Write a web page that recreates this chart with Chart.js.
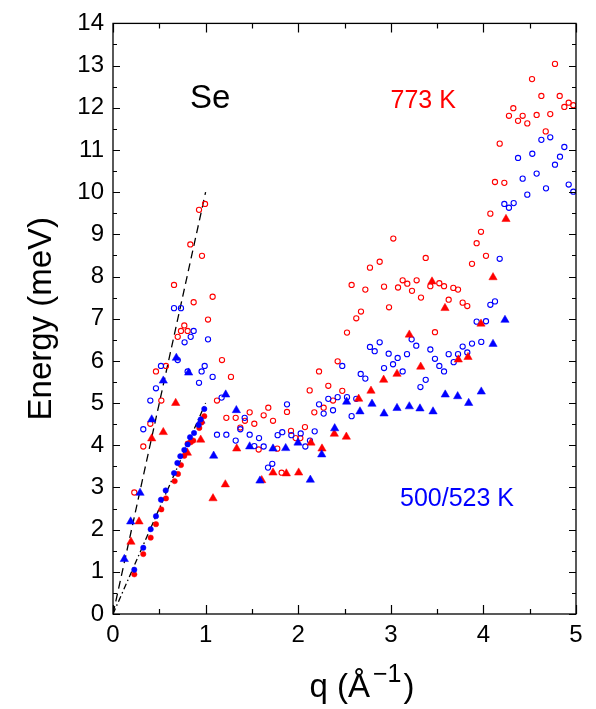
<!DOCTYPE html>
<html>
<head>
<meta charset="utf-8">
<script src="https://cdn.jsdelivr.net/npm/chart.js@4/dist/chart.umd.min.js"></script>
<style>
  html, body { margin: 0; padding: 0; background: #fff; }
  #wrap { width: 596px; height: 709px; }
</style>
</head>
<body>
<div id="wrap"><canvas id="c" width="596" height="709"></canvas></div>
<script>
// Se dispersion: energy (meV) versus q (1/Å)

// 773 K, open circles
const hotOpen = [
  [0.230,2.88],[0.327,3.97],[0.403,4.51],[0.522,5.06],[0.464,5.75],[0.572,5.88],
  [0.659,7.80],[0.699,6.57],[0.734,6.71],[0.770,6.84],[0.806,6.71],[0.835,8.76],
  [0.871,7.39],[0.929,9.58],[0.961,8.49],[0.994,9.72],[1.026,6.98],[1.076,7.52],
  [1.177,6.02],[1.123,5.06],[1.274,5.62],[1.224,4.65],[1.325,4.65],[1.375,4.42],
  [1.425,4.58],[1.476,4.78],[1.526,4.51],[1.573,3.90],[1.627,4.71],[1.677,4.89],
  [1.728,4.58],[1.774,3.92],[1.821,3.35],[1.879,4.79],[1.922,4.34],[1.973,4.17],
  [2.023,4.17],[2.073,4.43],[2.124,5.30],[2.174,4.78],[2.225,5.75],[2.275,4.89],
  [2.325,5.41],[2.376,5.06],[2.426,5.99],[2.476,5.29],[2.527,6.67],[2.577,7.80],
  [2.627,7.01],[2.678,7.17],[2.725,7.69],[2.775,8.21],[2.880,8.35],[2.927,7.76],
  [2.981,7.27],[3.027,8.90],[3.078,7.74],[3.128,7.91],[3.178,7.83],[3.229,7.66],
  [3.279,7.91],[3.326,7.50],[3.377,8.44],[3.427,7.77],[3.477,6.68],[3.524,7.84],
  [3.575,7.77],[3.625,7.45],[3.675,7.73],[3.726,7.69],[3.776,7.38],[3.826,7.30],
  [3.877,8.30],[3.927,8.79],[3.974,9.06],[4.028,8.49],[4.075,9.49],[4.125,10.24],
  [4.176,11.15],[4.226,10.22],[4.276,11.81],[4.323,11.99],[4.374,11.69],[4.424,11.81],
  [4.474,11.63],[4.525,12.68],[4.575,11.83],[4.626,12.28],[4.673,11.44],[4.722,11.85],
  [4.773,13.04],[4.824,12.28],[4.874,12.02],[4.921,12.12],[4.971,12.06]
];

// 500/523 K, open circles
const coldOpen = [
  [0.327,4.38],[0.403,5.06],[0.464,5.35],[0.518,5.88],[0.659,7.25],[0.699,6.02],
  [0.734,7.25],[0.773,6.44],[0.806,5.75],[0.839,6.57],[0.871,6.71],[0.929,5.48],
  [0.957,5.75],[0.990,5.88],[1.026,6.51],[1.076,5.62],[1.123,4.25],[1.173,5.13],
  [1.224,4.25],[1.325,4.11],[1.375,4.38],[1.422,4.65],[1.476,4.25],[1.526,3.98],
  [1.577,4.17],[1.627,3.97],[1.674,3.47],[1.720,3.56],[1.778,4.24],[1.828,4.31],
  [1.879,4.97],[1.926,4.24],[2.027,4.28],[2.077,3.97],[2.127,4.11],[2.178,4.33],
  [2.225,4.97],[2.275,4.75],[2.325,5.10],[2.376,4.83],[2.426,5.14],[2.476,5.88],
  [2.527,5.14],[2.577,4.69],[2.627,5.10],[2.675,5.69],[2.725,5.58],[2.775,6.33],
  [2.826,6.23],[2.880,6.44],[2.927,5.83],[2.977,6.17],[3.024,5.92],[3.074,6.07],
  [3.128,5.75],[3.175,6.16],[3.225,6.51],[3.275,6.36],[3.320,5.38],[3.377,5.55],
  [3.427,6.27],[3.477,6.05],[3.524,5.88],[3.575,5.75],[3.625,6.16],[3.679,5.97],
  [3.726,6.16],[3.776,6.34],[3.826,6.20],[3.877,6.41],[3.927,6.93],[3.977,6.45],
  [4.028,6.94],[4.075,7.33],[4.125,7.41],[4.176,8.42],[4.226,9.72],[4.276,9.63],
  [4.327,9.74],[4.374,10.81],[4.424,10.32],[4.474,9.94],[4.528,10.91],[4.575,10.44],
  [4.626,11.24],[4.676,10.09],[4.722,11.30],[4.773,10.65],[4.827,10.84],[4.874,11.07],
  [4.921,10.18],[4.971,10.01]
];

// 773 K, filled triangles
const hotTri = [
  [0.194,1.71],[0.281,2.19],[0.418,4.16],[0.543,4.31],[0.677,5.00],[0.803,3.82],
  [0.947,4.13],[1.080,2.74],[1.213,3.07],[1.336,3.92],[1.606,3.17],[1.728,3.35],
  [1.872,3.33],[2.005,3.35],[2.138,4.06],[2.257,3.92],[2.390,4.27],[2.520,4.20],
  [2.653,5.10],[2.786,5.29],[2.923,5.55],[3.067,5.69],[3.200,6.62],[3.323,5.86],
  [3.445,7.88],[3.585,7.25],[3.729,6.03],[3.834,6.09],[3.974,6.88],[4.104,7.98],
  [4.244,9.36]
];

// 500/523 K, filled triangles
const coldTri = [
  [0.122,1.30],[0.191,2.19],[0.292,2.87],[0.418,4.61],[0.543,5.53],[0.684,6.07],
  [0.817,5.72],[0.950,4.58],[1.087,3.75],[1.217,5.20],[1.332,4.83],[1.476,3.97],
  [1.587,3.16],[1.728,3.92],[1.865,3.93],[1.998,4.06],[2.131,3.18],[2.254,3.78],
  [2.394,4.40],[2.523,5.03],[2.667,4.80],[2.797,4.98],[2.927,4.75],[3.067,4.88],
  [3.200,4.92],[3.315,4.87],[3.456,4.80],[3.588,5.20],[3.722,5.16],[3.841,5.00],
  [3.977,5.27],[4.104,6.40],[4.233,6.97]
];

// 773 K, filled dots
const hotDot = [
  [0.230,0.94],[0.327,1.42],[0.407,1.81],[0.464,2.13],[0.522,2.48],[0.572,2.74],
  [0.666,3.15],[0.702,3.32],[0.734,3.53],[0.770,3.75],[0.806,4.04],[0.839,4.07],
  [0.867,4.11],[0.932,4.41],[0.957,4.54],[0.986,4.69]
];

// 500/523 K, filled dots
const coldDot = [
  [0.230,1.05],[0.327,1.57],[0.407,2.01],[0.464,2.32],[0.518,2.71],[0.569,2.93],
  [0.659,3.34],[0.695,3.58],[0.727,3.74],[0.770,3.89],[0.806,4.02],[0.832,4.19],
  [0.875,4.29],[0.925,4.48],[0.947,4.61],[0.986,4.86]
];

// guide lines through the origin
const fastLine = [[0,0],[1,10]];
const slowLine = [[0,0],[1,5]];

// axis ranges and tick steps
const xRange = [0, 5];
const yRange = [0, 14];
const xMajor = 1, xMinor = 0.5;
const yMajor = 1, yMinor = 0.5;

const RED = '#ff0000';
const BLUE = '#0000ff';
const FONT = '"Liberation Sans", Arial, Helvetica, sans-serif';

const pts = a => a.map(([x, y]) => ({ x, y }));

// frame with inward ticks on all four sides, plus text labels
const framePlugin = {
  id: 'frame',
  afterDraw(chart) {
    const { ctx, chartArea: a, scales: { x, y } } = chart;
    ctx.save();
    ctx.strokeStyle = '#000';
    ctx.lineWidth = 1.3;
    ctx.strokeRect(a.left, a.top, a.right - a.left, a.bottom - a.top);
    ctx.lineWidth = 1.2;
    ctx.beginPath();
    for (let v = xRange[0]; v <= xRange[1] + 1e-9; v += xMinor) {
      const major = Math.abs(v / xMajor - Math.round(v / xMajor)) < 1e-6;
      const len = major ? 9 : 5;
      const px = Math.round(x.getPixelForValue(v)) + 0.5;
      ctx.moveTo(px, a.bottom); ctx.lineTo(px, a.bottom - len);
      ctx.moveTo(px, a.top); ctx.lineTo(px, a.top + len);
    }
    for (let v = yRange[0]; v <= yRange[1] + 1e-9; v += yMinor) {
      const major = Math.abs(v / yMajor - Math.round(v / yMajor)) < 1e-6;
      const len = major ? 7 : 4;
      const py = Math.round(y.getPixelForValue(v)) + 0.5;
      ctx.moveTo(a.left, py); ctx.lineTo(a.left + len, py);
      ctx.moveTo(a.right, py); ctx.lineTo(a.right - len, py);
    }
    ctx.stroke();

    // in-plot labels
    ctx.textAlign = 'center';
    ctx.textBaseline = 'middle';
    ctx.fillStyle = '#000';
    ctx.font = '33px ' + FONT;
    ctx.fillText('Se', x.getPixelForValue(1.05), y.getPixelForValue(12.2));
    ctx.fillStyle = RED;
    ctx.font = '25px ' + FONT;
    ctx.fillText('773 K', x.getPixelForValue(3.35), y.getPixelForValue(12.15));
    ctx.fillStyle = BLUE;
    ctx.fillText('500/523 K', x.getPixelForValue(3.715), y.getPixelForValue(2.73));

    // x-axis title with superscript
    ctx.fillStyle = '#000';
    ctx.textAlign = 'left';
    ctx.textBaseline = 'alphabetic';
    const big = '33px ' + FONT, small = '25px ' + FONT;
    const p1 = 'q (\u00C5', p2 = '\u22121', p3 = ')';
    ctx.font = big; const w1 = ctx.measureText(p1).width, w3 = ctx.measureText(p3).width;
    ctx.font = small; const w2 = ctx.measureText(p2).width;
    const total = w1 + w2 + w3 + 5;
    let cx = 362 - total / 2;
    const base = 697;
    ctx.font = big; ctx.fillText(p1, cx, base); cx += w1 + 3;
    ctx.font = small; ctx.fillText(p2, cx, base - 15); cx += w2 + 2;
    ctx.font = big; ctx.fillText(p3, cx, base);
    ctx.restore();
  }
};

const scatterSet = (data, color, style, radius, filled, order) => ({
  type: 'scatter',
  data: pts(data),
  pointStyle: style,
  pointRadius: radius,
  pointBorderWidth: filled ? 0.5 : 1.1,
  borderColor: color,
  backgroundColor: filled ? color : 'rgba(0,0,0,0)',
  order
});

new Chart(document.getElementById('c'), {
  type: 'scatter',
  data: {
    datasets: [
      {
        type: 'line', data: pts(fastLine), borderColor: '#000', borderWidth: 1.3,
        borderDash: [8, 5], pointRadius: 0, fill: false, order: 10
      },
      {
        type: 'line', data: pts(slowLine), borderColor: '#000', borderWidth: 1.3,
        borderDash: [6, 3, 1.5, 3], pointRadius: 0, fill: false, order: 9
      },
      scatterSet(hotOpen, RED, 'circle', 2.6, false, 8),
      scatterSet(coldOpen, BLUE, 'circle', 2.6, false, 7),
      scatterSet(hotTri, RED, 'triangle', 4.8, true, 6),
      scatterSet(coldTri, BLUE, 'triangle', 4.8, true, 5),
      scatterSet(hotDot, RED, 'circle', 2.7, true, 4),
      scatterSet(coldDot, BLUE, 'circle', 2.7, true, 3)
    ]
  },
  options: {
    responsive: false,
    devicePixelRatio: 1,
    animation: false,
    events: [],
    layout: { padding: { left: 0, right: 20, top: 13, bottom: 0 } },
    plugins: { legend: { display: false }, tooltip: { enabled: false } },
    scales: {
      x: {
        type: 'linear', min: xRange[0], max: xRange[1],
        grid: { display: false, drawTicks: false },
        border: { display: false },
        ticks: { stepSize: xMajor, color: '#000', padding: 7,
                 font: { family: FONT, size: 24 }, maxRotation: 0 },
        afterFit(s) { s.height = 95; }
      },
      y: {
        type: 'linear', min: yRange[0], max: yRange[1],
        grid: { display: false, drawTicks: false },
        border: { display: false },
        ticks: { stepSize: yMajor, color: '#000', padding: 9,
                 font: { family: FONT, size: 24 } },
        title: { display: true, text: 'Energy (meV)', color: '#000',
                 font: { family: FONT, size: 33 }, padding: { top: 22, bottom: 0 } },
        afterFit(s) { s.width = 113; }
      }
    }
  },
  plugins: [framePlugin]
});
</script>
</body>
</html>
